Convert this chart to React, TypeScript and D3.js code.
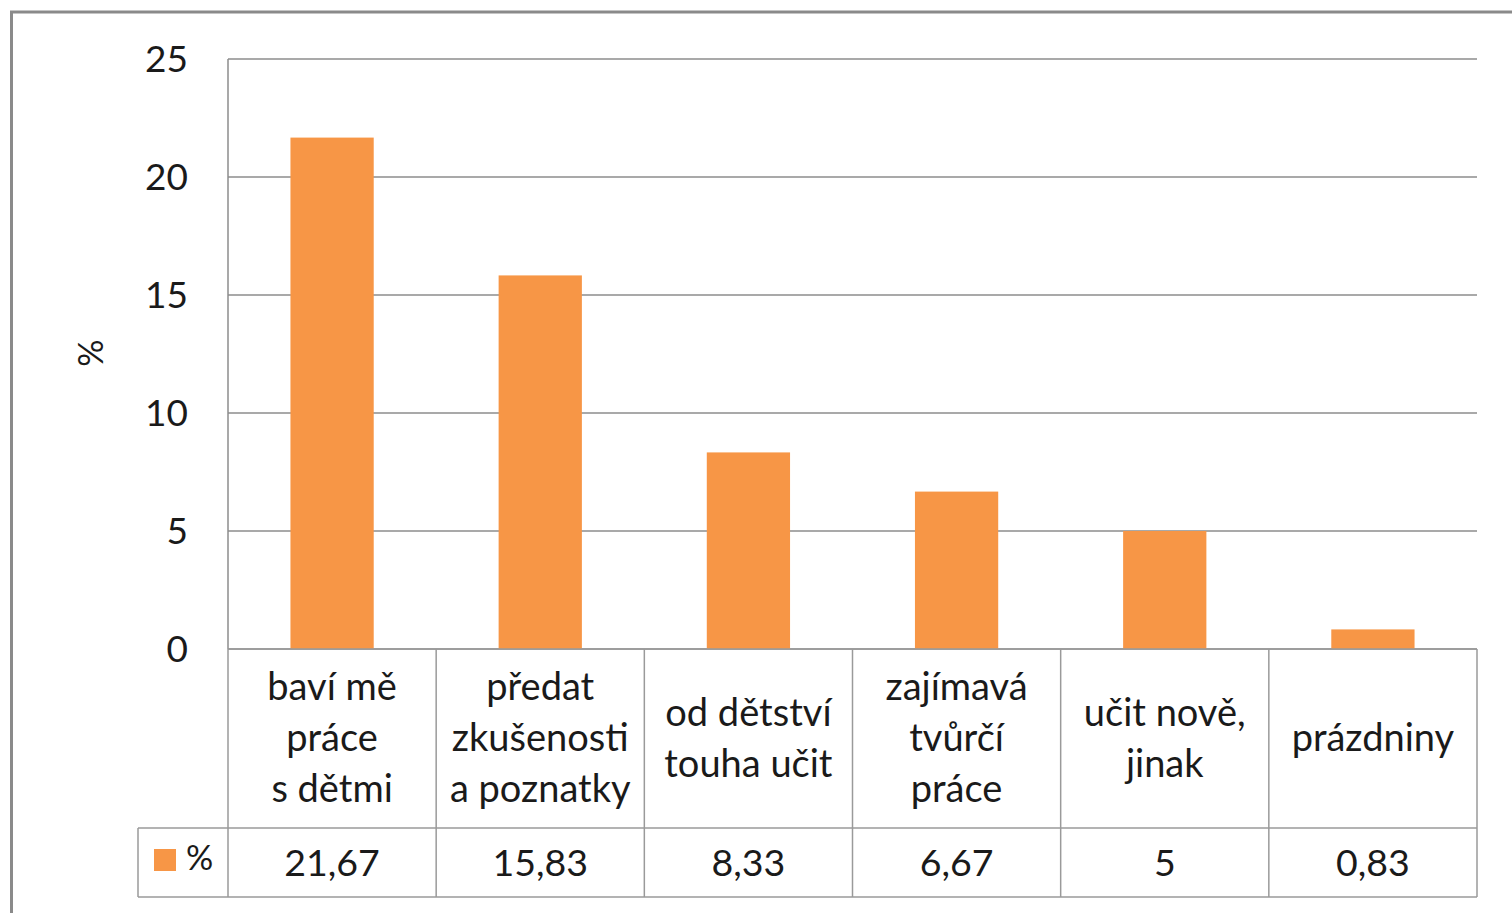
import * as d3 from "d3";

const categories = [
  ["baví mě", "práce", "s dětmi"],
  ["předat", "zkušenosti", "a poznatky"],
  ["od dětství", "touha učit"],
  ["zajímavá", "tvůrčí", "práce"],
  ["učit nově,", "jinak"],
  ["prázdniny"],
];
const values = [21.67, 15.83, 8.33, 6.67, 5, 0.83];
const valueLabels = ["21,67", "15,83", "8,33", "6,67", "5", "0,83"];
const yTicks = [0, 5, 10, 15, 20, 25];
const seriesName = "%";

const W = 1512;
const H = 913;
const plot = { left: 228, right: 1477, top: 59, bottom: 649 };
const catRowBottom = 828;
const valRowBottom = 897;
const legendLeft = 138;
const font = "Lato, 'Open Sans', sans-serif";
const textColor = "#1a1a1a";
const gridColor = "#8c8c8c";
const barColor = "#F79646";

export default function App() {
  const ids = categories.map((_, i) => String(i));
  const x = d3.scaleBand().domain(ids).range([plot.left, plot.right]).paddingInner(0.6).paddingOuter(0.3);
  const xCell = d3.scaleBand().domain(ids).range([plot.left, plot.right]);
  const y = d3.scaleLinear().domain([0, 25]).range([plot.bottom, plot.top]);
  const lineH = 51;
  const catMid = (plot.bottom + catRowBottom) / 2;
  const valMid = (catRowBottom + valRowBottom) / 2;

  return (
    <div style={{ position: "absolute", left: 0, top: 0 }}>
      <svg width={W} height={H} style={{ display: "block", background: "#fff" }} fontFamily={font}>
        {/* outer chart frame */}
        <rect x={11.5} y={12} width={W + 20} height={H + 20} fill="none" stroke="#8a8a8a" strokeWidth={3} />

        {/* gridlines */}
        {yTicks.map((t) => (
          <line key={t} x1={plot.left} x2={plot.right} y1={y(t)} y2={y(t)} stroke={gridColor} strokeWidth={1.5} />
        ))}
        <line x1={plot.left} x2={plot.left} y1={plot.top} y2={plot.bottom} stroke={gridColor} strokeWidth={1.5} />

        {/* y tick labels */}
        {yTicks.map((t) => (
          <text key={t} x={188} y={y(t)} dy="0.35em" textAnchor="end" fontSize={37} fill={textColor}>
            {t}
          </text>
        ))}
        <text
          transform={`translate(${91},${353}) rotate(-90)`}
          textAnchor="middle"
          dy="0.35em"
          fontSize={34}
          fill={textColor}
        >
          %
        </text>

        {/* bars */}
        {values.map((v, i) => (
          <rect key={i} x={x(String(i))} width={x.bandwidth()} y={y(v)} height={y(0) - y(v)} fill={barColor} />
        ))}

        {/* data table */}
        <g stroke="#9a9a9a" strokeWidth={1.5} fill="none">
          <line x1={plot.left} x2={plot.right} y1={plot.bottom} y2={plot.bottom} />
          <line x1={legendLeft} x2={plot.right} y1={catRowBottom} y2={catRowBottom} />
          <line x1={legendLeft} x2={plot.right} y1={valRowBottom} y2={valRowBottom} />
          <line x1={legendLeft} x2={legendLeft} y1={catRowBottom} y2={valRowBottom} />
          {ids.map((id) => (
            <line key={id} x1={xCell(id)} x2={xCell(id)} y1={plot.bottom} y2={valRowBottom} />
          ))}
          <line x1={plot.right} x2={plot.right} y1={plot.bottom} y2={valRowBottom} />
        </g>

        {categories.map((lines, i) => {
          const cx = (xCell(String(i)) ?? 0) + xCell.bandwidth() / 2;
          const start = catMid - ((lines.length - 1) * lineH) / 2;
          return (
            <text key={i} textAnchor="middle" fontSize={38} fill={textColor}>
              {lines.map((l, j) => (
                <tspan key={j} x={cx} y={start + j * lineH} dy="0.33em">
                  {l}
                </tspan>
              ))}
            </text>
          );
        })}

        {valueLabels.map((l, i) => (
          <text
            key={i}
            x={(xCell(String(i)) ?? 0) + xCell.bandwidth() / 2}
            y={valMid}
            dy="0.35em"
            textAnchor="middle"
            fontSize={37.5}
            fill={textColor}
          >
            {l}
          </text>
        ))}

        {/* legend key */}
        <rect x={154} y={849} width={22} height={22} fill={barColor} />
        <text x={186} y={858} dy="0.35em" fontSize={34} fill={textColor}>
          {seriesName}
        </text>
      </svg>
    </div>
  );
}
